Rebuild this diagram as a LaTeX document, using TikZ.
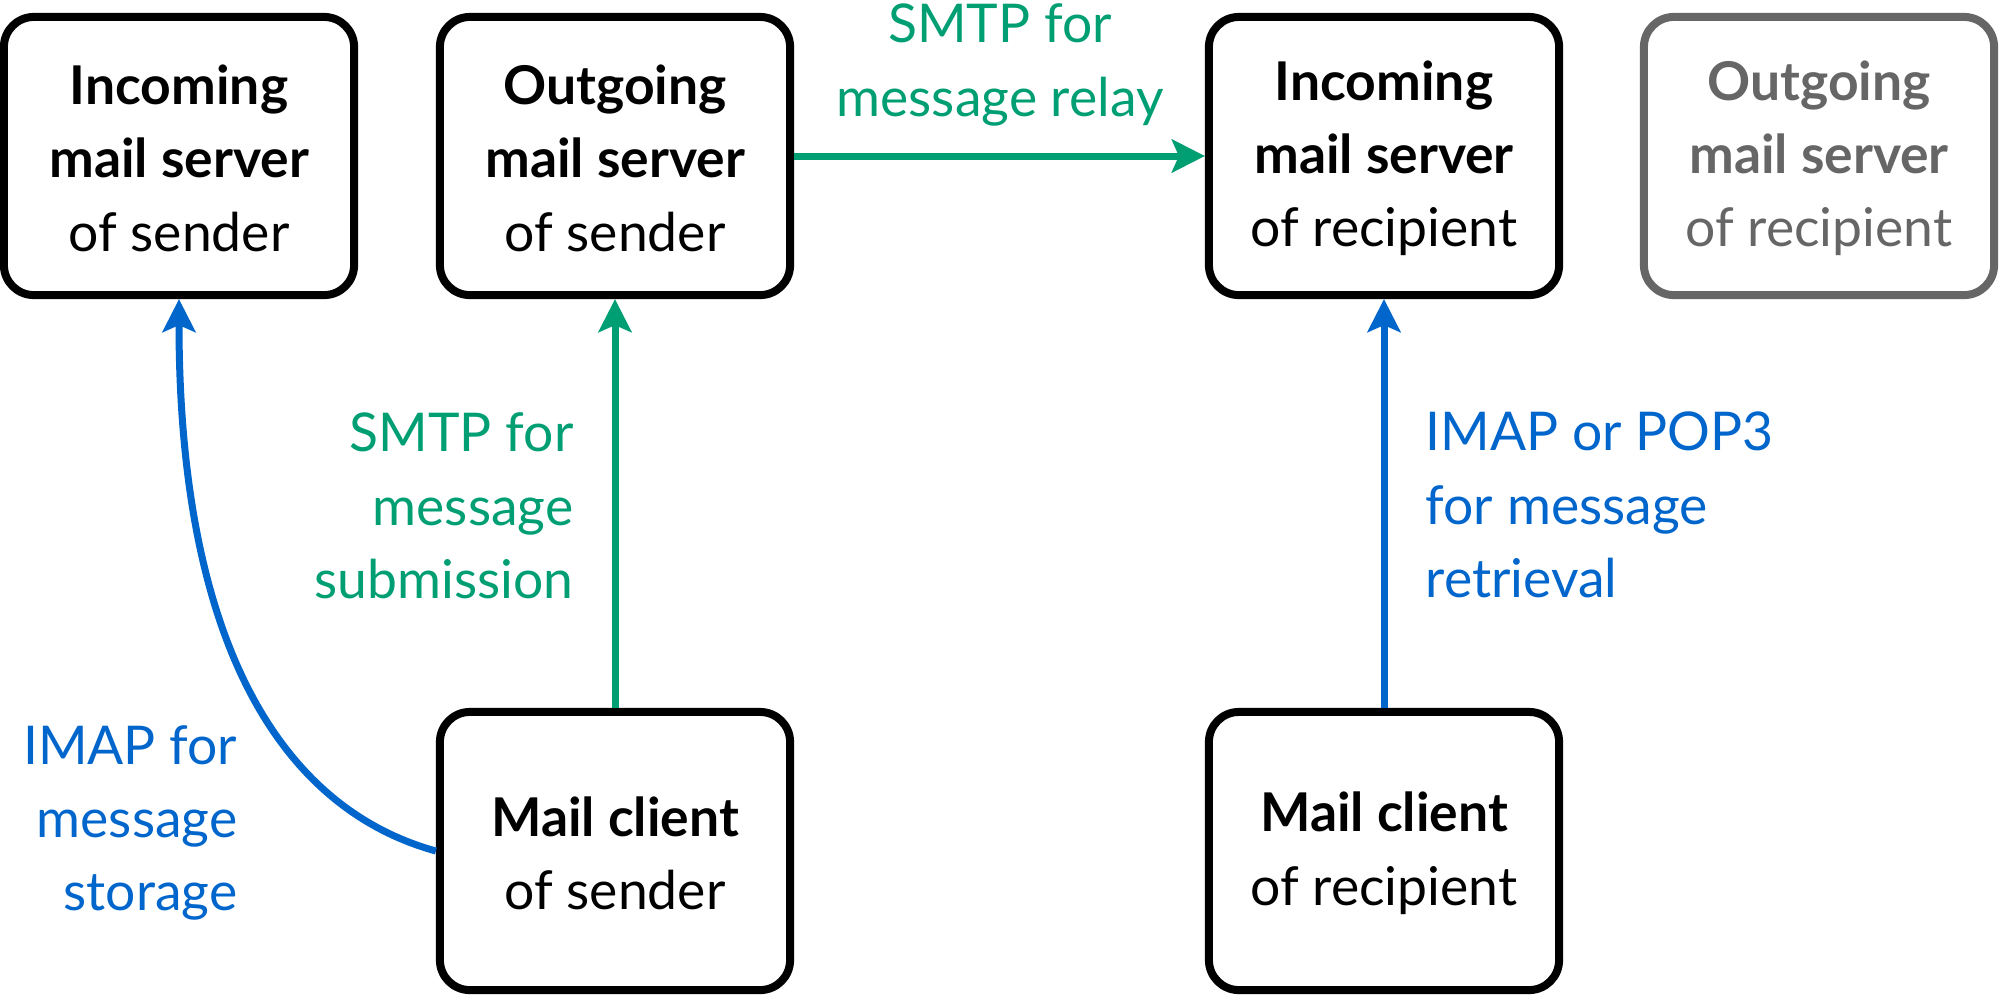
\documentclass[tikz,border=0pt]{standalone}
\usepackage{fontspec}
\setmainfont{Lato}
\usetikzlibrary{arrows.meta}
\definecolor{smtpgreen}{HTML}{009E73}
\definecolor{imapblue}{HTML}{0066CC}
\definecolor{dimgray}{HTML}{666666}
\newcommand{\boxtopstrut}{\rule{0pt}{0.82em}}
\begin{document}
\begin{tikzpicture}[x=0.01cm,y=-0.01cm,
  txt/.style={font=\fontsize{15.2pt}{20.85pt}\selectfont},
  box/.style={txt, draw, line width=0.08cm, rounded corners=0.3cm,
    minimum width=3.5cm, minimum height=2.78cm, align=center, inner sep=0pt},
  dimbox/.style={box, draw=dimgray, text=dimgray},
  conn/.style={line width=0.07cm,
    -{Stealth[length=0.33cm,width=0.33cm,inset=0.07cm]}},
  lblr/.style={txt, inner sep=0pt, align=right},
  lbll/.style={txt, inner sep=0pt, align=left},
  lblc/.style={txt, inner sep=0pt, align=center}]
\useasboundingbox (0,0) rectangle (2000,996);
% top row
\node[box] (is) at (179,156) {\boxtopstrut\textbf{Incoming}\\\textbf{mail server}\\of sender};
\node[box] (os) at (615,156) {\boxtopstrut\textbf{Outgoing}\\\textbf{mail server}\\of sender};
\node[box] (ir) at (1384,156) {\boxtopstrut\textbf{Incoming}\\\textbf{mail server}\\of recipient};
\node[dimbox] (or) at (1819,156) {\boxtopstrut\textbf{Outgoing}\\\textbf{mail server}\\of recipient};
% bottom row
\node[box] (mcs) at (615,851) {\boxtopstrut\textbf{Mail client}\\of sender};
\node[box] (mcr) at (1384,851) {\boxtopstrut\textbf{Mail client}\\of recipient};
% connectors
\draw[conn, smtpgreen] (os.east) -- (ir.west);
\draw[conn, smtpgreen] (mcs.north) -- (os.south);
\draw[conn, imapblue] (mcr.north) -- (ir.south);
\draw[conn, imapblue] (mcs.west) .. controls +(-145,-40) and +(0,360) .. (is.south);
% labels
\node[lblc, text=smtpgreen] (lrelay) at (1000,65) {SMTP for\\message relay};
\node[lblr, text=smtpgreen, anchor=east] (lsub) at (574,506) {SMTP for\\message\\submission};
\node[lbll, text=imapblue, anchor=west] (lret) at (1425,505) {IMAP or POP3\\for message\\retrieval};
\node[lblr, text=imapblue, anchor=east] (lsto) at (238,823) {IMAP for\\message\\storage};
\end{tikzpicture}
\end{document}
